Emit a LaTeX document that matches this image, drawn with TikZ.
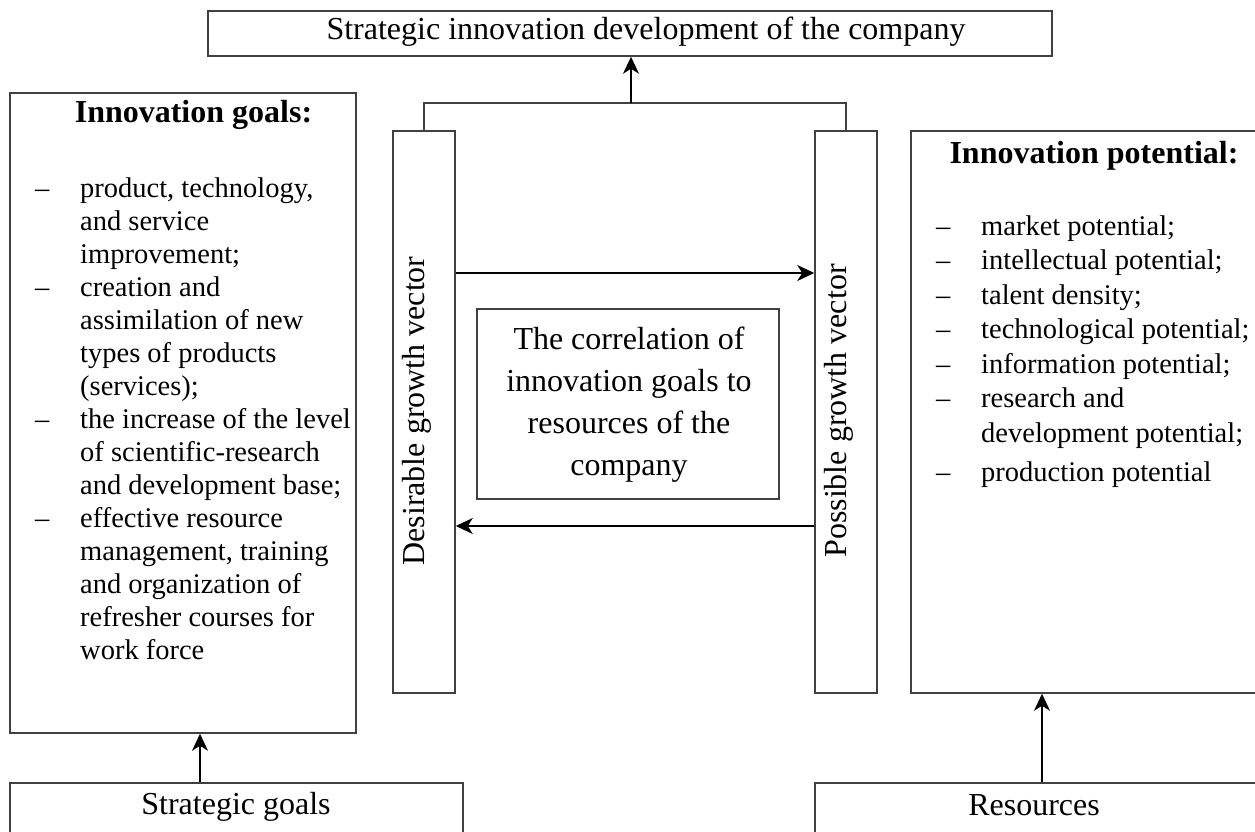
\documentclass[tikz,border=0pt]{standalone}
\usepackage{fontspec}
\setmainfont{Liberation Serif}
\usetikzlibrary{arrows.meta}
\newcommand{\bigtxt}{\fontsize{32}{42}\selectfont}
\newcommand{\lsttxt}{\fontsize{28.5}{33}\selectfont}
\newcommand{\rsttxt}{\fontsize{28.5}{34.5}\selectfont}
\tikzset{
  boxx/.style={draw=black!75, line width=1.5pt, rectangle, inner sep=0pt},
  lbl/.style={inner sep=0pt, anchor=base, font=\bigtxt},
  arr/.style={draw=black, line width=1.7pt, -{Stealth[length=17pt,width=16pt,inset=5pt]}},
  conn/.style={draw=black!75, line width=1.5pt}
}
\begin{document}
\begin{tikzpicture}[x=1pt,y=-1pt]
\path[use as bounding box] (0,0) rectangle (1255,832);
\clip (0,0) rectangle (1255,832);
% boxes
\node[boxx, minimum width=844pt, minimum height=45pt] (top) at (630,33.5) {};
\node[boxx, minimum width=346pt, minimum height=640pt] (lgoals) at (183,413) {};
\node[boxx, minimum width=62pt, minimum height=562pt] (dgv) at (424,412) {};
\node[boxx, minimum width=62pt, minimum height=562pt] (pgv) at (846,412) {};
\node[boxx, minimum width=302pt, minimum height=190pt] (corr) at (628,404) {};
\node[boxx, minimum width=354pt, minimum height=562pt] (rpot) at (1088,412) {};
\node[boxx, minimum width=453pt, minimum height=62pt] (sgoals) at (236.5,814) {};
\node[boxx, minimum width=450pt, minimum height=62pt] (res) at (1040,814) {};
% texts
\node[lbl] (ttop) at (646,40) {Strategic innovation development of the company};
\node[lbl, font=\bigtxt\bfseries] (tlg) at (193.5,123) {Innovation goals:};
\node[lbl, font=\bigtxt\bfseries] (trp) at (1094,163) {Innovation potential:};
\node[lbl] (tsg) at (236,814) {Strategic goals};
\node[lbl] (tres) at (1034,815) {Resources};
\node[lbl, rotate=90] (tdgv) at (424,411) {Desirable growth vector};
\node[lbl, rotate=90] (tpgv) at (846,411) {Possible growth vector};
\node[lbl, align=center, anchor=north] (tcorr) at (629,327) {The correlation of\\innovation goals to\\resources of the\\company};
\node[inner sep=0pt, anchor=base west, font=\lsttxt] (llist) at (35,197) {\begin{tabular}[t]{@{}p{45pt}@{}l@{}}
–& product, technology,\\
& and service\\
& improvement;\\
–& creation and\\
& assimilation of new\\
& types of products\\
& (services);\\
–& the increase of the level\\
& of scientific-research\\
& and development base;\\
–& effective resource\\
& management, training\\
& and organization of\\
& refresher courses for\\
& work force
\end{tabular}};
\node[inner sep=0pt, anchor=base west, font=\rsttxt] (rlist) at (936,235) {\begin{tabular}[t]{@{}p{45pt}@{}l@{}}
–& market potential;\\
–& intellectual potential;\\
–& talent density;\\
–& technological potential;\\
–& information potential;\\
–& research and\\
& development potential;\\[4.5pt]
–& production potential
\end{tabular}};
% connectors
\coordinate (j) at (631,103);
\coordinate (ya) at (0,273);
\coordinate (yb) at (0,526);
\coordinate (xa) at (200,0);
\coordinate (xb) at (1042,0);
\draw[conn] (dgv.north) |- (j) -| (pgv.north);
\draw[arr] (j) -- (top.south -| j);
\draw[arr] (dgv.east |- ya) -- (pgv.west |- ya);
\draw[arr] (pgv.west |- yb) -- (dgv.east |- yb);
\draw[arr] (sgoals.north -| xa) -- (lgoals.south -| xa);
\draw[arr] (res.north -| xb) -- (rpot.south -| xb);
\end{tikzpicture}
\end{document}
